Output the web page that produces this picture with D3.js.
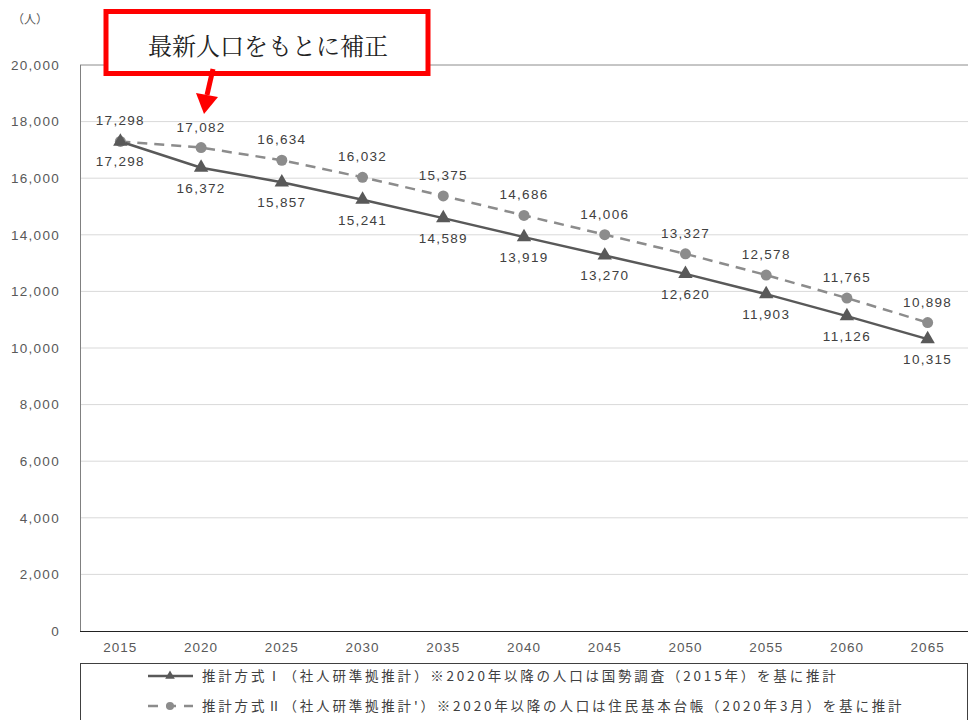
<!DOCTYPE html>
<html><head><meta charset="utf-8">
<script src="https://cdn.jsdelivr.net/npm/d3@7"></script>
<style>body{margin:0;background:#fff}svg{display:block}</style>
</head><body>
<svg id="c" width="969" height="720"></svg>
<script>
const years = ["2015","2020","2025","2030","2035","2040","2045","2050","2055","2060","2065"];
const seriesI = [17298,16372,15857,15241,14589,13919,13270,12620,11903,11126,10315];
const seriesII = [17298,17082,16634,16032,15375,14686,14006,13327,12578,11765,10898];
const yTicks = [0,2000,4000,6000,8000,10000,12000,14000,16000,18000,20000];
const legendI = "推計方式Ⅰ（社人研準拠推計）※2020年以降の人口は国勢調査（2015年）を基に推計";
const legendII = "推計方式Ⅱ（社人研準拠推計'）※2020年以降の人口は住民基本台帳（2020年3月）を基に推計";
const unitLabel = "（人）";
const noteText = "最新人口をもとに補正";

const svg = d3.select("#c");
const L = 80, R = 968, T = 65, B = 631;
const x = d3.scaleBand().domain(years).range([L, R]);
const y = d3.scaleLinear().domain([0, 20000]).range([B, T]);
const cx = d => x(d) + x.bandwidth()/2;
const font = "'Liberation Sans', Arial, sans-serif";

// gridlines
svg.append("g").selectAll("line").data(yTicks.filter(v => v > 0)).join("line")
  .attr("x1", L).attr("x2", R).attr("y1", d => y(d)).attr("y2", d => y(d))
  .attr("stroke", d => d === 20000 ? "#8c8c8c" : "#d9d9d9").attr("stroke-width", 1);
// left axis
svg.append("line").attr("x1", L+0.5).attr("x2", L+0.5).attr("y1", T).attr("y2", B)
  .attr("stroke", "#808080").attr("stroke-width", 1);
// bottom axis
svg.append("line").attr("x1", L).attr("x2", R).attr("y1", B+0.5).attr("y2", B+0.5)
  .attr("stroke", "#222").attr("stroke-width", 1.2);

// y tick labels
svg.append("g").selectAll("text").data(yTicks).join("text")
  .attr("x", 60).attr("y", d => y(d)).attr("dy", "0.35em")
  .attr("text-anchor", "end").attr("font-family", font).attr("font-size", 13.5).attr("letter-spacing", 1.3)
  .attr("fill", "#595959").text(d => d3.format(",")(d));
// x tick labels
svg.append("g").selectAll("text").data(years).join("text")
  .attr("x", d => cx(d)).attr("y", 652).attr("text-anchor", "middle").attr("letter-spacing", 1)
  .attr("font-family", font).attr("font-size", 13.5).attr("fill", "#595959").text(d => d);
// unit
svg.append("text").attr("x", 30).attr("y", 24).attr("text-anchor", "middle")
  .attr("font-family", "'Noto Sans CJK JP', sans-serif").attr("font-size", 12).attr("fill", "#595959").text(unitLabel);

// lines
const line = d3.line().x((d,i) => cx(years[i])).y(d => y(d));
svg.append("path").datum(seriesII).attr("d", line).attr("fill", "none")
  .attr("stroke", "#8c8c8c").attr("stroke-width", 2.5).attr("stroke-dasharray", "10,7");
svg.append("path").datum(seriesI).attr("d", line).attr("fill", "none")
  .attr("stroke", "#595959").attr("stroke-width", 2.5);

// markers
svg.append("g").selectAll("circle").data(seriesII).join("circle")
  .attr("cx", (d,i) => cx(years[i])).attr("cy", d => y(d)).attr("r", 5.5).attr("fill", "#8c8c8c");
const tri = d3.symbol().type(d3.symbolTriangle).size(90);
svg.append("g").selectAll("path").data(seriesI).join("path")
  .attr("d", tri).attr("transform", (d,i) => `translate(${cx(years[i])},${y(d)})`).attr("fill", "#595959");

// data labels
svg.append("g").selectAll("text").data(seriesII).join("text")
  .attr("x", (d,i) => cx(years[i])).attr("y", d => y(d) - 16).attr("text-anchor", "middle").attr("letter-spacing", 1.3)
  .attr("font-family", font).attr("font-size", 13.5).attr("fill", "#404040").text(d => d3.format(",")(d));
svg.append("g").selectAll("text").data(seriesI).join("text")
  .attr("x", (d,i) => cx(years[i])).attr("y", d => y(d) + 25).attr("text-anchor", "middle").attr("letter-spacing", 1.3)
  .attr("font-family", font).attr("font-size", 13.5).attr("fill", "#404040").text(d => d3.format(",")(d));

// legend
svg.append("rect").attr("x", 80.5).attr("y", 663.5).attr("width", 887).attr("height", 70)
  .attr("fill", "#fff").attr("stroke", "#404040").attr("stroke-width", 1);
const lg = svg.append("g");
lg.append("line").attr("x1", 148).attr("x2", 193).attr("y1", 676).attr("y2", 676).attr("stroke", "#595959").attr("stroke-width", 2.5);
lg.append("path").attr("d", d3.symbol().type(d3.symbolTriangle).size(40)).attr("transform", "translate(170,676)").attr("fill", "#595959");
lg.append("text").attr("x", 202).attr("y", 676).attr("dy", "0.35em").attr("font-family", "'Noto Sans CJK JP', sans-serif")
  .attr("font-size", 13.5).attr("letter-spacing", 2.8).attr("fill", "#404040").text(legendI);
lg.append("line").attr("x1", 148).attr("x2", 193).attr("y1", 706).attr("y2", 706).attr("stroke", "#8c8c8c").attr("stroke-width", 2.5).attr("stroke-dasharray", "10,8");
lg.append("circle").attr("cx", 170).attr("cy", 706).attr("r", 4).attr("fill", "#8c8c8c");
lg.append("text").attr("x", 202).attr("y", 706).attr("dy", "0.35em").attr("font-family", "'Noto Sans CJK JP', sans-serif")
  .attr("font-size", 13.5).attr("letter-spacing", 2.8).attr("fill", "#404040").text(legendII);

// annotation
svg.append("rect").attr("x", 106).attr("y", 11.5).attr("width", 322).attr("height", 62)
  .attr("fill", "#fff").attr("stroke", "#ff0000").attr("stroke-width", 5);
svg.append("text").attr("x", 268).attr("y", 47).attr("dy", "0.35em").attr("text-anchor", "middle")
  .attr("font-family", "'Noto Serif CJK JP','Noto Sans CJK JP', serif").attr("font-size", 24).attr("fill", "#222").text(noteText);
svg.append("line").attr("x1", 213).attr("y1", 69).attr("x2", 207).attr("y2", 95).attr("stroke", "#ff0000").attr("stroke-width", 5);
svg.append("path").attr("d", "M196,93 L218,97 L204,114 Z").attr("fill", "#ff0000");
</script>
</body></html>
